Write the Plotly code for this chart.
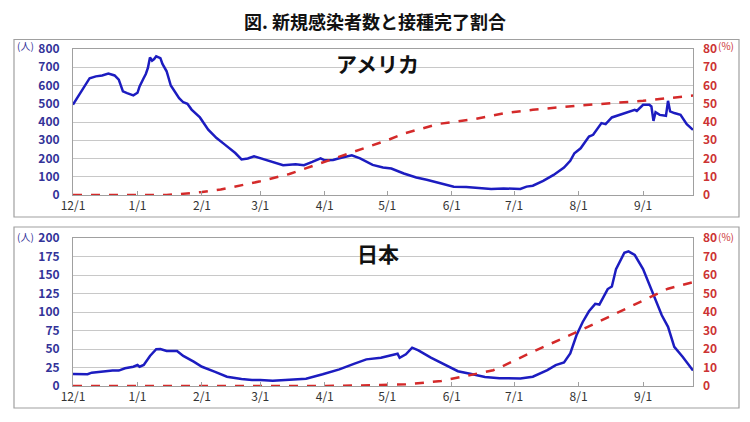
import pandas as pd
import plotly.graph_objects as go

# 日付の範囲
start = "2020-12-01"
end = "2021-09-25"

# x軸の目盛り
tick_dates = ["2020-12-01", "2021-01-01", "2021-02-01", "2021-03-01", "2021-04-01",
              "2021-05-01", "2021-06-01", "2021-07-01", "2021-08-01", "2021-09-01"]
tick_labels = ["12/1", "1/1", "2/1", "3/1", "4/1", "5/1", "6/1", "7/1", "8/1", "9/1"]

# アメリカ 新規感染者数（人口100万人あたり）
us_dates = ["2020-12-01", "2020-12-06", "2020-12-09", "2020-12-12", "2020-12-15", "2020-12-18",
            "2020-12-21", "2020-12-23", "2020-12-25", "2020-12-27", "2020-12-30", "2021-01-01",
            "2021-01-02", "2021-01-04", "2021-01-05", "2021-01-06", "2021-01-07", "2021-01-08",
            "2021-01-09", "2021-01-10", "2021-01-12", "2021-01-13", "2021-01-15", "2021-01-17",
            "2021-01-21", "2021-01-23", "2021-01-25", "2021-01-27", "2021-01-31", "2021-02-04",
            "2021-02-08", "2021-02-12", "2021-02-17", "2021-02-20", "2021-02-23", "2021-02-26",
            "2021-03-01", "2021-03-07", "2021-03-12", "2021-03-18", "2021-03-22", "2021-03-26",
            "2021-03-30", "2021-04-01", "2021-04-05", "2021-04-08", "2021-04-14", "2021-04-18",
            "2021-04-24", "2021-04-29", "2021-05-03", "2021-05-09", "2021-05-15", "2021-05-20",
            "2021-05-26", "2021-06-02", "2021-06-08", "2021-06-15", "2021-06-20", "2021-06-26",
            "2021-07-01", "2021-07-04", "2021-07-07", "2021-07-10", "2021-07-15", "2021-07-20",
            "2021-07-25", "2021-07-28", "2021-07-30", "2021-08-02", "2021-08-06", "2021-08-08",
            "2021-08-12", "2021-08-14", "2021-08-17", "2021-08-22", "2021-08-28", "2021-08-29",
            "2021-09-01", "2021-09-04", "2021-09-05", "2021-09-06", "2021-09-07", "2021-09-09",
            "2021-09-12", "2021-09-13", "2021-09-14", "2021-09-16", "2021-09-19", "2021-09-22",
            "2021-09-25"]
us_cases = [495, 590, 640, 650, 655, 665,
            655, 632, 568, 558, 546, 560,
            595, 641, 663, 696, 754, 736,
            745, 760, 750, 718, 678, 600,
            531, 508, 500, 468, 425, 358,
            312, 276, 230, 195, 200, 212,
            201, 178, 163, 169, 163, 181,
            201, 190, 192, 201, 218, 201,
            165, 151, 145, 118, 96, 84,
            65, 45, 44, 38, 33, 36,
            33, 33, 46, 51, 77, 110,
            150, 187, 229, 256, 320, 330,
            394, 388, 425, 443, 467, 461,
            494, 494, 485, 406, 454, 439,
            434, 516, 458, 449, 439, 388,
            357]

# アメリカ 接種完了割合（%）
us_vax_dates = ["2020-12-01", "2021-01-15", "2021-01-21", "2021-02-01", "2021-02-10", "2021-02-19",
                "2021-03-01", "2021-03-15", "2021-03-31", "2021-04-11", "2021-04-24", "2021-05-01",
                "2021-05-10", "2021-05-26", "2021-06-11", "2021-06-26", "2021-07-10", "2021-08-01",
                "2021-09-01", "2021-09-25"]
us_vax = [0, 0, 0.5, 1.6, 3.0, 5.1,
          7.5, 11.5, 17.8, 22.0, 26.9, 30.0,
          34.0, 39.0, 41.4, 44.8, 46.7, 49.0,
          51.6, 54.5]

# 日本 新規感染者数（人口100万人あたり）
jp_dates = ["2020-12-01", "2020-12-08", "2020-12-10", "2020-12-14", "2020-12-20", "2020-12-23",
            "2020-12-26", "2020-12-30", "2021-01-01", "2021-01-02", "2021-01-04", "2021-01-07",
            "2021-01-10", "2021-01-12", "2021-01-15", "2021-01-20", "2021-01-23", "2021-01-28",
            "2021-02-01", "2021-02-07", "2021-02-13", "2021-02-20", "2021-02-25", "2021-03-01",
            "2021-03-07", "2021-03-15", "2021-03-23", "2021-03-31", "2021-04-08", "2021-04-15",
            "2021-04-21", "2021-04-28", "2021-05-03", "2021-05-06", "2021-05-07", "2021-05-10",
            "2021-05-13", "2021-05-16", "2021-05-22", "2021-05-29", "2021-06-04", "2021-06-11",
            "2021-06-17", "2021-06-24", "2021-07-04", "2021-07-10", "2021-07-17", "2021-07-21",
            "2021-07-25", "2021-07-28", "2021-07-31", "2021-08-03", "2021-08-06", "2021-08-09",
            "2021-08-11", "2021-08-15", "2021-08-17", "2021-08-19", "2021-08-23", "2021-08-25",
            "2021-08-28", "2021-09-01", "2021-09-05", "2021-09-10", "2021-09-13", "2021-09-16",
            "2021-09-20", "2021-09-23", "2021-09-25"]
jp_cases = [16.3, 16, 18, 19.4, 20.8, 20.8,
            24, 26, 28.4, 26, 28.4, 40.6,
            49.7, 50, 47.4, 47.4, 40.6, 33,
            26, 19.4, 12.6, 9.5, 8.1, 8.1,
            7.2, 8.6, 9.9, 15.8, 22.5, 30,
            36, 38.3, 41.4, 43.7, 38, 42.8,
            51.8, 48, 38.3, 29, 20, 15.8,
            12.2, 10.5, 10.3, 12.6, 21.5, 28.3,
            31.8, 44, 68.6, 86.5, 101, 111,
            110, 131, 134.5, 158, 180, 182,
            177, 158, 129, 95.5, 80, 53,
            39.5, 29, 21]

# 日本 接種完了割合（%）
jp_vax_dates = ["2020-12-01", "2021-04-01", "2021-04-28", "2021-05-10", "2021-05-27", "2021-06-12",
                "2021-06-21", "2021-06-25", "2021-07-10", "2021-08-01", "2021-08-17", "2021-09-01",
                "2021-09-13", "2021-09-25"]
jp_vax = [0, 0, 0.5, 0.9, 2.7, 6.3,
          8.5, 10.4, 18.5, 29.6, 38.2, 46.3,
          52.6, 56.1]

BLUE = "#1c1cc0"
RED = "#d42a2a"
LBLUE = "#333399"
LRED = "#cc3333"
GRID = "#c8c8c8"
FONT = "Noto Sans CJK JP"

# ページのbody marginが8pxあるので、その分だけ小さくしてずらす
OFF = 8
W, H = 750 - OFF, 422 - OFF


def px(x):
    # 画面上のピクセル位置 -> paper座標
    return (x - OFF) / W


def py(y):
    return 1 - (y - OFF) / H


fig = go.Figure()

fig.add_trace(go.Scatter(x=pd.to_datetime(us_dates), y=us_cases, mode="lines",
                         line=dict(color=BLUE, width=2.5), xaxis="x", yaxis="y"))
fig.add_trace(go.Scatter(x=pd.to_datetime(us_vax_dates), y=us_vax, mode="lines",
                         line=dict(color=RED, width=2.5, dash="dash"), xaxis="x", yaxis="y2"))
fig.add_trace(go.Scatter(x=pd.to_datetime(jp_dates), y=jp_cases, mode="lines",
                         line=dict(color=BLUE, width=2.5), xaxis="x2", yaxis="y3"))
fig.add_trace(go.Scatter(x=pd.to_datetime(jp_vax_dates), y=jp_vax, mode="lines",
                         line=dict(color=RED, width=2.5, dash="dash"), xaxis="x2", yaxis="y4"))

xdom = [px(73), px(693)]
top_dom = [py(195), py(49)]
bot_dom = [py(386), py(238)]

xcommon = dict(
    range=[start, end], domain=xdom, tickvals=tick_dates, ticktext=tick_labels,
    showgrid=False, showline=True, linecolor="#a0a0a0", mirror=True, automargin=False,
    ticks="inside", ticklen=4, tickcolor="#a0a0a0",
    tickfont=dict(family=FONT, size=12, color="#333333"),
)
ycommon_left = dict(
    showgrid=True, gridcolor=GRID, showline=True, linecolor="#a0a0a0", mirror=True,
    zeroline=False, ticks="", ticklabelstandoff=10, automargin=False,
    tickfont=dict(family=FONT, size=12, color=LBLUE, weight="bold"),
)
ycommon_right = dict(
    side="right", showgrid=False, zeroline=False, ticks="", ticklabelstandoff=9, automargin=False,
    tickfont=dict(family=FONT, size=12, color=LRED, weight="bold"),
)

fig.update_layout(
    width=W, height=H,
    margin=dict(l=0, r=0, t=0, b=0),
    paper_bgcolor="white", plot_bgcolor="white",
    showlegend=False,
    font=dict(family=FONT),
    xaxis=dict(anchor="y", **xcommon),
    xaxis2=dict(anchor="y3", **xcommon),
    yaxis=dict(domain=top_dom, range=[0, 800], dtick=100, anchor="x", **ycommon_left),
    yaxis2=dict(domain=top_dom, range=[0, 80], dtick=10, overlaying="y", anchor="x", **ycommon_right),
    yaxis3=dict(domain=bot_dom, range=[0, 200], dtick=25, anchor="x2", **ycommon_left),
    yaxis4=dict(domain=bot_dom, range=[0, 80], dtick=10, overlaying="y3", anchor="x2", **ycommon_right),
)

# 外枠
for y0, y1 in [(217, 39.5), (408, 227)]:
    fig.add_shape(type="rect", xref="paper", yref="paper",
                  x0=px(14), x1=px(739), y0=py(y0), y1=py(y1),
                  line=dict(color="#a0a0a0", width=1.2), layer="below")

# タイトル
fig.add_annotation(text="<b>図. 新規感染者数と接種完了割合</b>", x=px(375), y=py(20.5),
                   xref="paper", yref="paper", showarrow=False, yanchor="middle",
                   borderpad=0, font=dict(family=FONT, size=18, color="#111111"))

# パネル名
fig.add_annotation(text="<b>アメリカ</b>", x=px(377), y=py(63), xref="paper", yref="paper",
                   showarrow=False, yanchor="middle",
                   font=dict(family=FONT, size=21, color="#111111"))
fig.add_annotation(text="<b>日本</b>", x=px(378), y=py(253), xref="paper", yref="paper",
                   showarrow=False, yanchor="middle",
                   font=dict(family=FONT, size=21, color="#111111"))

# 単位
for yy in [46, 236]:
    fig.add_annotation(text="(人)", x=px(16), y=py(yy), xref="paper", yref="paper",
                       showarrow=False, xanchor="left", yanchor="middle", borderpad=0,
                       font=dict(family=FONT, size=10, color=LBLUE))
    fig.add_annotation(text="(%)", x=px(717), y=py(yy), xref="paper", yref="paper",
                       showarrow=False, xanchor="left", yanchor="middle", borderpad=0,
                       font=dict(family=FONT, size=10, color=LRED))

fig.write_html("out.html")
